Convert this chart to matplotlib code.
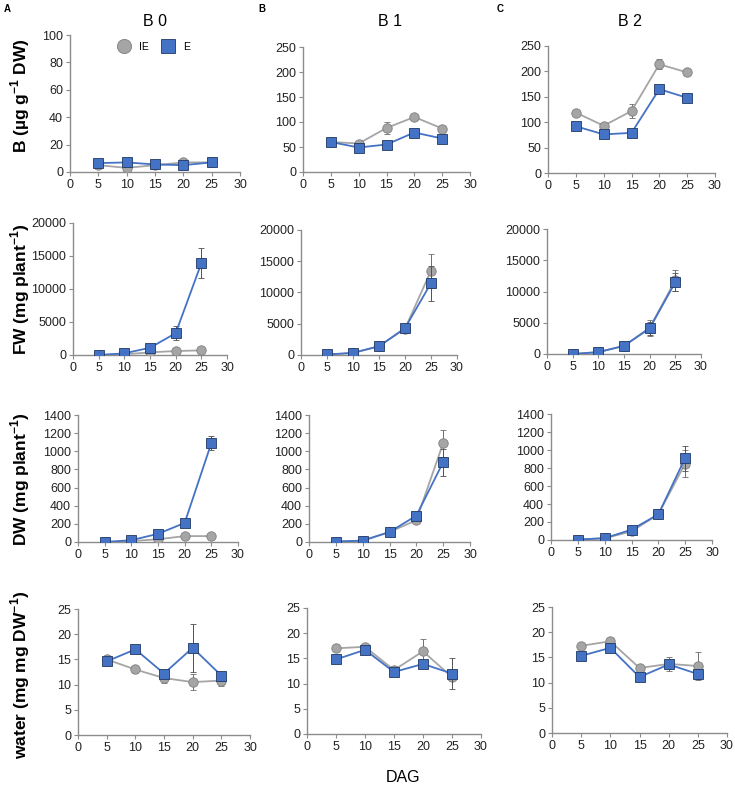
import matplotlib.pyplot as plt
import numpy as np

plt.rcParams['font.family'] = ['Liberation Sans', 'DejaVu Sans']
plt.rcParams['mathtext.fontset'] = 'custom'
plt.rcParams['mathtext.rm'] = 'Liberation Sans'
plt.rcParams['mathtext.bf'] = 'Liberation Sans:bold'

dag = [5, 10, 15, 20, 25]

# B (ug g-1 DW)
b_ie = [[5, 3, 5, 7, 7], [60, 57, 88, 110, 87], [119, 93, 122, 214, 198]]
b_ie_err = [[1, 1, 1, 1, 0], [0, 0, 12, 5, 0], [0, 0, 13, 10, 0]]
b_e = [[6.5, 7, 5.5, 5, 7], [60, 49, 55, 79, 67], [92, 76, 79, 165, 148]]
b_e_err = [[0, 0, 0, 0, 0], [0, 0, 0, 0, 0], [8, 0, 0, 0, 0]]

# FW (mg plant-1)
fw_ie = [[0, 100, 400, 600, 700], [50, 300, 1400, 4200, 13500], [0, 300, 1300, 4200, 11800]]
fw_ie_err = [[0, 0, 0, 0, 0], [0, 0, 0, 0, 2700], [0, 0, 0, 1300, 1700]]
fw_e = [[0, 250, 1100, 3300, 13900], [80, 350, 1400, 4300, 11500], [0, 300, 1300, 4100, 11500]]
fw_e_err = [[0, 0, 0, 1100, 2300], [0, 0, 0, 0, 2800], [0, 0, 0, 1000, 1400]]

# DW (mg plant-1)
dw_ie = [[0, 10, 30, 65, 65], [5, 15, 110, 240, 1090], [5, 20, 95, 285, 850]]
dw_ie_err = [[0, 0, 0, 0, 0], [0, 0, 0, 0, 150], [0, 0, 0, 0, 150]]
dw_e = [[0, 20, 90, 210, 1090], [5, 15, 110, 290, 880], [5, 20, 115, 285, 910]]
dw_e_err = [[0, 0, 0, 30, 80], [0, 0, 0, 0, 150], [0, 0, 0, 0, 140]]

# water (mg mg DW-1)
w_ie = [[15, 13, 11.3, 10.5, 10.8], [17, 17.3, 12.7, 16.4, 11.3], [17.3, 18.2, 12.9, 13.7, 13.3]]
w_ie_err = [[0, 0.6, 1.0, 1.6, 1.1], [0, 0, 0, 2.4, 0], [0, 0, 0, 1.3, 2.8]]
w_e = [[14.6, 17, 12.2, 17.3, 11.8], [14.8, 16.7, 12.3, 13.9, 12.0], [15.3, 16.9, 11.1, 13.6, 11.7]]
w_e_err = [[0, 0, 0, 4.8, 0], [0, 0, 0, 0, 3.0], [0, 0, 0, 0, 0.9]]

rows = [
    (b_ie, b_ie_err, b_e, b_e_err),
    (fw_ie, fw_ie_err, fw_e, fw_e_err),
    (dw_ie, dw_ie_err, dw_e, dw_e_err),
    (w_ie, w_ie_err, w_e, w_e_err),
]
ylims = [[(0, 100, 20), (0, 250, 50), (0, 250, 50)],
         [(0, 20000, 5000)] * 3,
         [(0, 1400, 200)] * 3,
         [(0, 25, 5)] * 3]
ylabels = [r"B (µg g$^{\mathbf{-1}}$ DW)", r"FW (mg plant$^{\mathbf{-1}}$)",
           r"DW (mg plant$^{\mathbf{-1}}$)", r"water (mg mg DW$^{\mathbf{-1}}$)"]
titles = ["B 0", "B 1", "B 2"]
letters = ["A", "B", "C"]

W, H = 735, 786
# axes boxes in pixels: left, right, top, bottom
boxes = [
    [(70, 240, 35, 172), (303, 470, 47, 172), (548, 715, 46, 173)],
    [(73, 227, 223, 355), (301, 457, 230, 355), (547, 701, 229, 354)],
    [(78, 238, 415, 542), (309, 470, 415, 542), (551, 712, 414, 540)],
    [(78, 250, 609, 735), (307, 481, 608, 734), (552, 727, 607, 733)],
]
label_y = [96, 289, 479, 675]

c_e = '#4472C4'
c_e_edge = '#1F3864'
c_ie = '#A5A5A5'
c_ie_edge = '#7F7F7F'
axis_col = '#8C8C8C'

fig = plt.figure(figsize=(W / 100, H / 100), dpi=100)

for r, (ie, ie_err, e, e_err) in enumerate(rows):
    for c in range(3):
        l, rt, t, b = boxes[r][c]
        ax = fig.add_axes([l / W, 1 - b / H, (rt - l) / W, (b - t) / H])
        ax.errorbar(dag, ie[c], yerr=ie_err[c], color=c_ie, lw=1.3, marker='o', ms=6.8,
                    mfc=c_ie, mec=c_ie_edge, mew=0.6, ecolor='#6E6E6E', elinewidth=0.7,
                    capsize=2, capthick=0.7, zorder=3, label='IE')
        ax.errorbar(dag, e[c], yerr=e_err[c], color=c_e, lw=1.3, marker='s', ms=6.5,
                    mfc=c_e, mec=c_e_edge, mew=0.6, ecolor='#505050', elinewidth=0.7,
                    capsize=2, capthick=0.7, zorder=4, label='E')
        lo, hi, st = ylims[r][c]
        ax.set_ylim(lo, hi)
        ax.set_yticks(np.arange(lo, hi + st / 2, st))
        ax.set_xlim(0, 30)
        ax.set_xticks(np.arange(0, 31, 5))
        for s in ['top', 'right']:
            ax.spines[s].set_visible(False)
        for s in ['left', 'bottom']:
            ax.spines[s].set_color(axis_col)
            ax.spines[s].set_linewidth(1.0)
        ax.tick_params(axis='both', labelsize=9, colors=axis_col, labelcolor='#222222',
                       length=3, width=0.8, pad=2)
        if r == 0 and c == 0:
            ax.legend(loc='upper center', bbox_to_anchor=(0.5, 1.02), ncol=2, frameon=False,
                      fontsize=7.5, markerscale=1.5, handlelength=0.8, columnspacing=1.5,
                      handletextpad=1.0, numpoints=1)
    fig.text(20 / W, 1 - label_y[r] / H, ylabels[r], rotation=90, ha='center', va='center',
             fontsize=12.5, fontweight='bold')

title_x = [155, 390, 630]
letter_x = [7, 262, 500]
for c in range(3):
    fig.text(title_x[c] / W, 1 - 22 / H, titles[c], ha='center', va='center', fontsize=11.5)
    fig.text(letter_x[c] / W, 1 - 9 / H, letters[c], ha='center', va='center',
             fontsize=7, fontweight='bold')

fig.text(403 / W, 1 - 778 / H, "DAG", ha='center', va='center', fontsize=11.5)

fig.savefig('out.png', dpi=100)
